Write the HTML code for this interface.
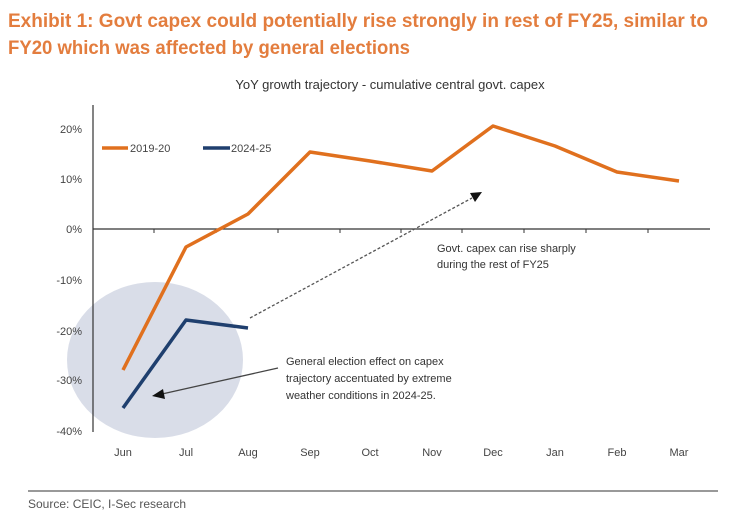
<!DOCTYPE html>
<html><head><meta charset="utf-8"><style>
html,body{margin:0;padding:0;background:#fff;}
svg{display:block;}
text{font-family:"Liberation Sans",Arial,sans-serif;}
</style></head><body>
<svg width="733" height="514" viewBox="0 0 733 514">
<text x="8" y="27" font-size="19" font-weight="bold" fill="#E37D3E" textLength="700" lengthAdjust="spacingAndGlyphs">Exhibit 1: Govt capex could potentially rise strongly in rest of FY25, similar to</text>
<text x="8" y="54" font-size="19" font-weight="bold" fill="#E37D3E" textLength="402" lengthAdjust="spacingAndGlyphs">FY20 which was affected by general elections</text>
<text x="390" y="89" font-size="13" fill="#333" text-anchor="middle">YoY growth trajectory - cumulative central govt. capex</text>
<ellipse cx="155" cy="360" rx="88" ry="78" fill="#D9DDE8"/>
<line x1="93" y1="105" x2="93" y2="432" stroke="#333" stroke-width="1.2"/>
<line x1="93" y1="229" x2="710" y2="229" stroke="#333" stroke-width="1.2"/>
<g stroke="#333" stroke-width="1">
<line x1="154" y1="229" x2="154" y2="233"/><line x1="216" y1="229" x2="216" y2="233"/><line x1="278" y1="229" x2="278" y2="233"/><line x1="340" y1="229" x2="340" y2="233"/><line x1="401" y1="229" x2="401" y2="233"/><line x1="462" y1="229" x2="462" y2="233"/><line x1="524" y1="229" x2="524" y2="233"/><line x1="586" y1="229" x2="586" y2="233"/><line x1="648" y1="229" x2="648" y2="233"/>
</g>
<g font-size="11" fill="#444" text-anchor="end">
<text x="82" y="133">20%</text><text x="82" y="183">10%</text><text x="82" y="233">0%</text><text x="82" y="284">-10%</text><text x="82" y="335">-20%</text><text x="82" y="384">-30%</text><text x="82" y="435">-40%</text>
</g>
<g font-size="11" fill="#444" text-anchor="middle">
<text x="123" y="456">Jun</text><text x="186" y="456">Jul</text><text x="248" y="456">Aug</text><text x="310" y="456">Sep</text><text x="370" y="456">Oct</text><text x="432" y="456">Nov</text><text x="493" y="456">Dec</text><text x="555" y="456">Jan</text><text x="617" y="456">Feb</text><text x="679" y="456">Mar</text>
</g>
<polyline points="123,370 186,247 248,214 310,152 370,161 432,171 493,126 555,146 617,172 679,181" fill="none" stroke="#E0701E" stroke-width="3.5" stroke-linejoin="round"/>
<polyline points="123,408 186,320 248,328" fill="none" stroke="#1F3F6E" stroke-width="3.5" stroke-linejoin="round"/>
<line x1="102" y1="148" x2="128" y2="148" stroke="#E0701E" stroke-width="3.5"/>
<text x="130" y="152" font-size="11" fill="#444">2019-20</text>
<line x1="203" y1="148" x2="230" y2="148" stroke="#1F3F6E" stroke-width="3.5"/>
<text x="231" y="152" font-size="11" fill="#444">2024-25</text>
<line x1="250" y1="318" x2="472" y2="198" stroke="#555" stroke-width="1.3" stroke-dasharray="3,2"/>
<polygon points="482,192 470,193 475,202" fill="#111"/>
<line x1="278" y1="368" x2="162" y2="394" stroke="#444" stroke-width="1.3"/>
<polygon points="152,396 163,389 165,399" fill="#111"/>
<text x="437" y="252" font-size="11" fill="#333">Govt. capex can rise sharply</text>
<text x="437" y="268" font-size="11" fill="#333">during the rest of FY25</text>
<text x="286" y="365" font-size="11" fill="#333">General election effect on capex</text>
<text x="286" y="382" font-size="11" fill="#333">trajectory accentuated by extreme</text>
<text x="286" y="399" font-size="11" fill="#333">weather conditions in 2024-25.</text>
<line x1="28" y1="491" x2="718" y2="491" stroke="#999" stroke-width="2"/>
<text x="28" y="508" font-size="12" fill="#555">Source: CEIC, I-Sec research</text>
</svg>
</body></html>
